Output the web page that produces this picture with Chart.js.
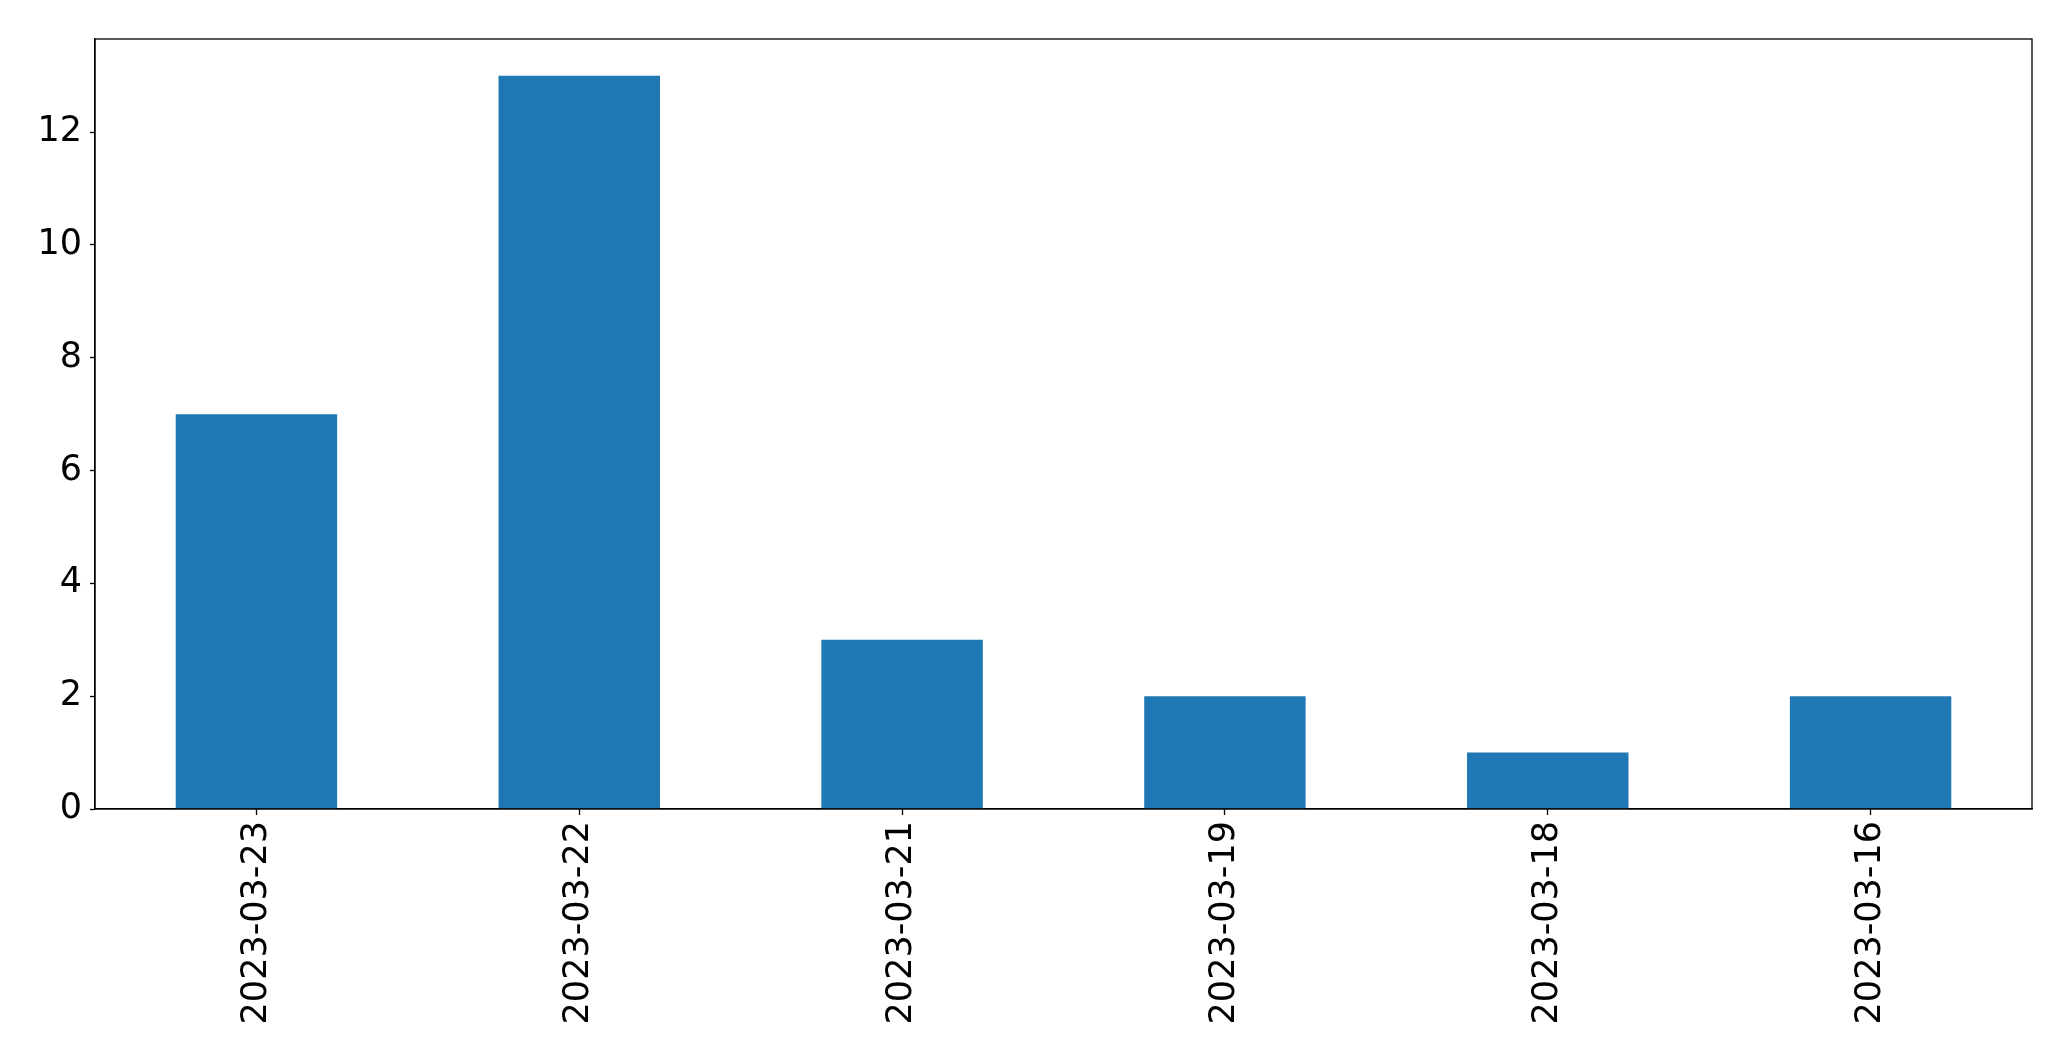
<!DOCTYPE html>
<html>
<head>
<meta charset="utf-8">
<script src="https://cdn.jsdelivr.net/npm/chart.js@4"></script>
<style>
html,body{margin:0;padding:0;background:#fff;}
#wrap{width:2071px;height:1061px;position:relative;}
</style>
</head>
<body>
<div id="wrap"><canvas id="c"></canvas></div>
<script>
const categories = ["2023-03-23","2023-03-22","2023-03-21","2023-03-19","2023-03-18","2023-03-16"];
const counts = [7, 13, 3, 2, 1, 2];
const yTicks = [0, 2, 4, 6, 8, 10, 12];
const yMax = 13.65;

const frame = {
  id: 'frame',
  afterDraw(chart) {
    const a = chart.chartArea, ctx = chart.ctx;
    ctx.save();
    ctx.strokeStyle = '#000';
    ctx.lineWidth = 1.3;
    ctx.strokeRect(a.left, a.top, a.right - a.left, a.bottom - a.top);
    ctx.restore();
  }
};

new Chart(document.getElementById('c'), {
  type: 'bar',
  data: {
    labels: categories,
    datasets: [{
      data: counts,
      backgroundColor: '#1f77b4',
      borderWidth: 0,
      categoryPercentage: 0.5,
      barPercentage: 1.0
    }]
  },
  options: {
    responsive: true,
    maintainAspectRatio: false,
    animation: false,
    layout: { padding: { left: 0, top: 39, right: 39, bottom: 0 } },
    plugins: { legend: { display: false }, tooltip: { enabled: false } },
    scales: {
      x: {
        offset: true,
        grid: { drawOnChartArea: false, drawTicks: true, tickLength: 6, tickColor: '#000', tickWidth: 1.3, offset: false },
        border: { display: true, color: '#000', width: 1.3 },
        ticks: {
          minRotation: 90, maxRotation: 90, autoSkip: false,
          color: '#000', padding: 6,
          font: { family: 'DejaVu Sans', size: 35 }
        },
        afterFit(s) { s.height = 252; }
      },
      y: {
        min: 0, max: yMax,
        grid: { drawOnChartArea: false, drawTicks: true, tickLength: 5, tickColor: '#000', tickWidth: 1.3 },
        border: { display: true, color: '#000', width: 1.3 },
        ticks: {
          color: '#000', padding: 8,
          font: { family: 'DejaVu Sans', size: 35 }
        },
        afterBuildTicks(s) { s.ticks = yTicks.map(v => ({ value: v })); },
        afterFit(s) { s.width = 95; }
      }
    }
  },
  plugins: [frame]
});
</script>
</body>
</html>
